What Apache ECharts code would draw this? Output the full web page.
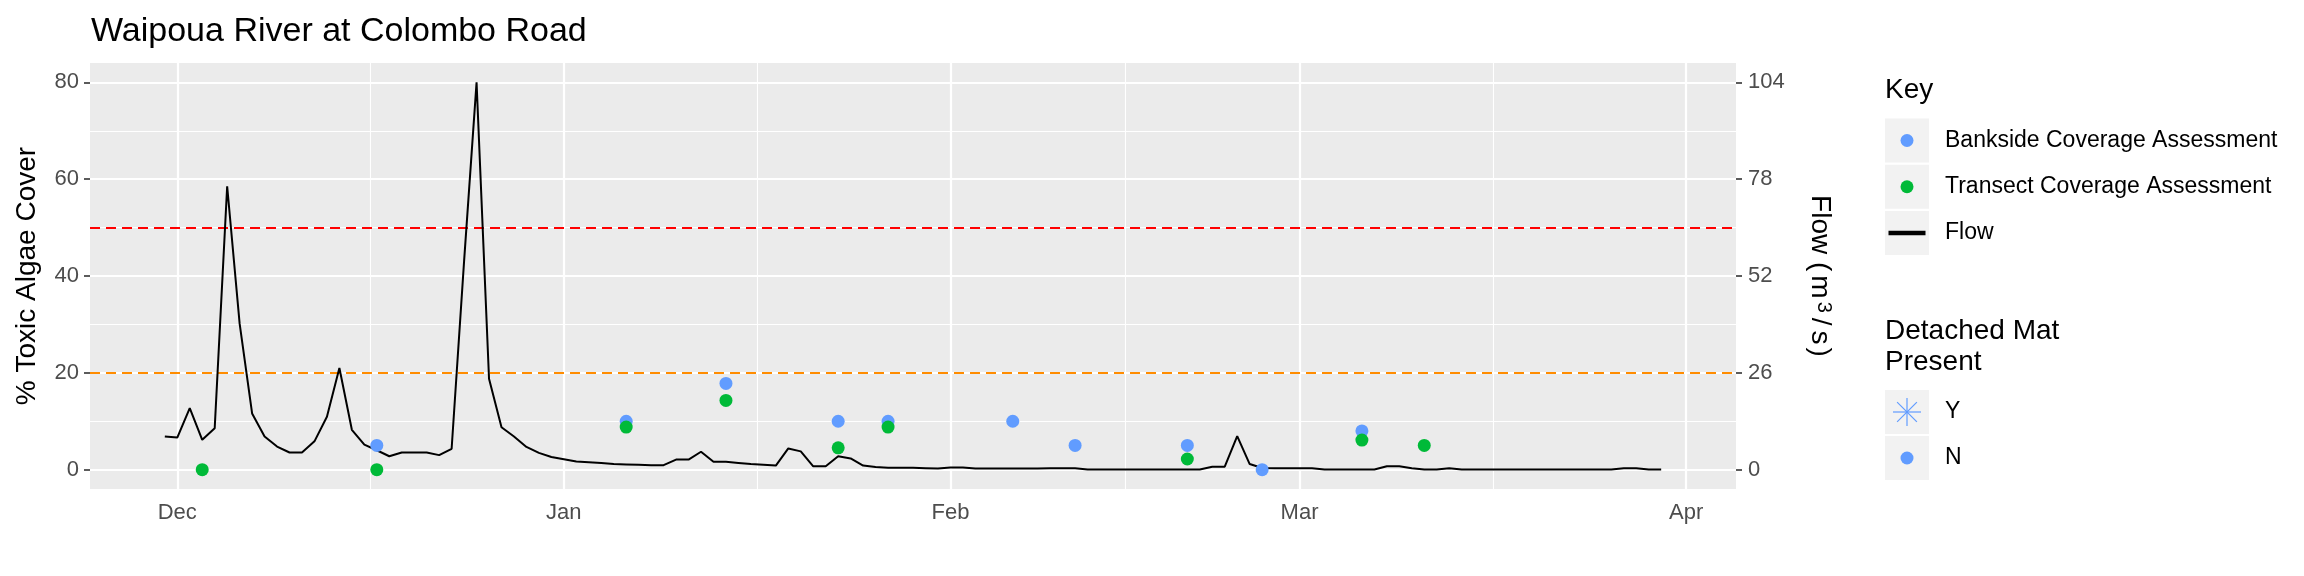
<!DOCTYPE html>
<html><head><meta charset="utf-8">
<script src="https://cdn.jsdelivr.net/npm/echarts@6/dist/echarts.min.js"></script>
<style>html,body{margin:0;padding:0;background:#fff}#c{width:2304px;height:576px}</style>
</head><body><div id="c"></div>
<script>
const FONT = '"Liberation Sans", Arial, Helvetica, sans-serif';
const titleText = 'Waipoua River at Colombo Road';
const leftAxisTitle = '% Toxic Algae Cover';

// Daily flow (m3/s) starting 2022-11-30
const flowStart = '2022-11-30';
const flowValues = [
  8.9, 8.6, 16.5, 8.0, 11.1, 76.1, 39.2, 15.1, 8.9, 6.2,
  4.6, 4.6, 7.6, 14.2, 27.3, 10.7, 6.7, 5.2, 3.6, 4.6,
  4.6, 4.6, 3.9, 5.6, 56, 104, 24.4, 11.4, 8.9, 6.1,
  4.5, 3.4, 2.8, 2.2, 2.0, 1.8, 1.5, 1.4, 1.3, 1.2,
  1.2, 2.7, 2.7, 4.8, 2.1, 2.1, 1.8, 1.5, 1.3, 1.1,
  5.7, 4.9, 0.9, 0.9, 3.6, 3.0, 1.1, 0.7, 0.5, 0.5,
  0.5, 0.4, 0.3, 0.6, 0.6, 0.3, 0.3, 0.3, 0.3, 0.3,
  0.3, 0.35, 0.35, 0.35, 0.05, 0.05, 0.05, 0.05, 0.05, 0.05,
  0.05, 0.05, 0.05, 0.05, 0.8, 0.8, 9.0, 1.5, 0.45, 0.35,
  0.35, 0.35, 0.35, 0.05, 0.05, 0.05, 0.05, 0.05, 0.9, 0.9,
  0.4, 0.05, 0.05, 0.4, 0.05, 0.05, 0.05, 0.05, 0.05, 0.05,
  0.05, 0.05, 0.05, 0.05, 0.05, 0.05, 0.05, 0.4, 0.4, 0.05,
  0.05
];

const banksideDates = ['2022-12-17','2023-01-06','2023-01-14','2023-01-23','2023-01-27','2023-02-06','2023-02-11','2023-02-20','2023-02-26','2023-03-06'];
const banksideValues = [5, 10, 17.8, 10, 10, 10, 5, 5, 0, 8];
const transectDates = ['2022-12-03','2022-12-17','2023-01-06','2023-01-14','2023-01-23','2023-01-27','2023-02-20','2023-03-06','2023-03-11'];
const transectValues = [0, 0, 8.8, 14.3, 4.5, 8.8, 2.2, 6.1, 5];

const thresholdValues = [50, 20];
const thresholdColors = ['#FF0000', '#FF8C00'];

const monthTickDates = ['2022-12-01','2023-01-01','2023-02-01','2023-03-01','2023-04-01'];
const monthTickLabels = ['Dec','Jan','Feb','Mar','Apr'];
const xRange = ['2022-11-24', '2023-04-05'];
const algaeTicks = [0, 20, 40, 60, 80];
const flowTicks = [0, 26, 52, 78, 104];

const keyLabels = ['Bankside Coverage Assessment', 'Transect Coverage Assessment', 'Flow'];
const matLabels = ['Y', 'N'];

const BLUE = '#619CFF', GREEN = '#00BA38';

function ts(s) { const p = s.split('-').map(Number); return Date.UTC(p[0], p[1] - 1, p[2]); }
const DAY = 86400000;
const flowData = flowValues.map((v, i) => [ts(flowStart) + i * DAY, v]);
const bankData = banksideDates.map((d, i) => [ts(d), banksideValues[i]]);
const tranData = transectDates.map((d, i) => [ts(d), transectValues[i]]);
const majorX = monthTickDates.map(ts);
const minorX = majorX.slice(1).map((v, i) => (v + majorX[i]) / 2);
const minorY = algaeTicks.slice(1).map((v, i) => (v + algaeTicks[i]) / 2);
const ratio = flowTicks[flowTicks.length - 1] / algaeTicks[algaeTicks.length - 1];
const yMin = -4, yMax = 84;

const gridLines = [
  ...majorX.map(v => ({ xAxis: v, lineStyle: { color: '#FFFFFF', width: 2.2, type: 'solid' } })),
  ...minorX.map(v => ({ xAxis: v, lineStyle: { color: '#FFFFFF', width: 1.1, type: 'solid' } })),
  ...algaeTicks.map(v => ({ yAxis: v, lineStyle: { color: '#FFFFFF', width: 2.2, type: 'solid' } })),
  ...minorY.map(v => ({ yAxis: v, lineStyle: { color: '#FFFFFF', width: 1.1, type: 'solid' } }))
];
const thresholdLines = thresholdValues.map((v, i) => ({ yAxis: v, lineStyle: { color: thresholdColors[i], width: 2, type: [10, 6] } }));

const tickStyle = { color: '#333333', width: 1.6 };
const labelStyle = { color: '#4D4D4D', fontSize: 22, fontFamily: FONT };

const LX = 1885, BOX = 44, CX = 1907, TX = 1945;
const keyCenters = [140.5, 186.75, 233];
const matCenters = [412, 458];
const graphics = [];
graphics.push({ type: 'text', x: LX, y: 90, style: { text: 'Key', fontSize: 28, fontFamily: FONT, fill: '#000', align: 'left', verticalAlign: 'middle' } });
keyCenters.forEach((c, i) => {
  graphics.push({ type: 'rect', shape: { x: LX, y: c - BOX / 2, width: BOX, height: BOX }, style: { fill: '#F2F2F2' } });
  graphics.push({ type: 'text', x: TX, y: c, style: { text: keyLabels[i], fontSize: 23, fontFamily: FONT, fill: '#000', align: 'left', verticalAlign: 'middle' } });
});
graphics.push({ type: 'circle', shape: { cx: CX, cy: keyCenters[0], r: 6.5 }, style: { fill: BLUE } });
graphics.push({ type: 'circle', shape: { cx: CX, cy: keyCenters[1], r: 6.5 }, style: { fill: GREEN } });
graphics.push({ type: 'line', shape: { x1: CX - 18.5, y1: keyCenters[2], x2: CX + 18.5, y2: keyCenters[2] }, style: { stroke: '#000', lineWidth: 4.5 } });
graphics.push({ type: 'text', x: LX, y: 315.5, style: { text: 'Detached Mat\nPresent', fontSize: 28, lineHeight: 31, fontFamily: FONT, fill: '#000', align: 'left', verticalAlign: 'top' } });
matCenters.forEach((c, i) => {
  graphics.push({ type: 'rect', shape: { x: LX, y: c - BOX / 2, width: BOX, height: BOX }, style: { fill: '#F2F2F2' } });
  graphics.push({ type: 'text', x: TX, y: c, style: { text: matLabels[i], fontSize: 23, fontFamily: FONT, fill: '#000', align: 'left', verticalAlign: 'middle' } });
});
(function () {
  const c = matCenters[0], r = 14, d = 9.9;
  const seg = [[0, -r, 0, r], [-r, 0, r, 0], [-d, -d, d, d], [-d, d, d, -d]];
  seg.forEach(s => graphics.push({ type: 'line', shape: { x1: CX + s[0], y1: c + s[1], x2: CX + s[2], y2: c + s[3] }, style: { stroke: BLUE, lineWidth: 1.2 } }));
})();
graphics.push({ type: 'circle', shape: { cx: CX, cy: matCenters[1], r: 6.5 }, style: { fill: BLUE } });

const base = { fontSize: 28, fontFamily: FONT, color: '#000', lineHeight: 28, verticalAlign: 'bottom' };
const chart = echarts.init(document.getElementById('c'), null, { renderer: 'canvas' });
chart.setOption({
  animation: false,
  backgroundColor: '#FFFFFF',
  title: {
    text: titleText, left: 91, top: 15, padding: 0,
    textStyle: { fontSize: 34, fontWeight: 'normal', color: '#000', fontFamily: FONT }
  },
  grid: { left: 90, right: 568, top: 63, bottom: 87, show: true, backgroundColor: '#EBEBEB', borderWidth: 0, containLabel: false },
  xAxis: {
    type: 'value', min: ts(xRange[0]), max: ts(xRange[1]), scale: true,
    axisLine: { show: false },
    axisTick: { show: true, length: 6, lineStyle: tickStyle, customValues: majorX },
    axisLabel: Object.assign({ margin: 13, customValues: majorX, formatter: v => { const i = majorX.indexOf(v); return i >= 0 ? monthTickLabels[i] : ''; } }, labelStyle),
    splitLine: { show: false }
  },
  yAxis: [
    {
      type: 'value', min: yMin, max: yMax, position: 'left',
      name: leftAxisTitle, nameLocation: 'middle', nameGap: 49, nameRotate: 90,
      nameTextStyle: { fontSize: 28, color: '#000', fontFamily: FONT },
      axisLine: { show: false },
      axisTick: { show: true, length: 6, lineStyle: tickStyle, customValues: algaeTicks },
      axisLabel: Object.assign({ margin: 11, customValues: algaeTicks }, labelStyle),
      splitLine: { show: false }
    },
    {
      type: 'value', min: yMin * ratio, max: yMax * ratio, position: 'right',
      name: '{a|Flow (}{b|m}{s|3}{c|/}{d|s}{e|)}', nameLocation: 'middle', nameGap: 55, nameRotate: -90,
      nameTextStyle: {
        fontSize: 28, color: '#000', fontFamily: FONT,
        rich: {
          a: Object.assign({}, base),
          b: Object.assign({}, base, { padding: [0, 0, 0, 4] }),
          s: { fontSize: 20, fontFamily: FONT, color: '#000', lineHeight: 20, verticalAlign: 'top', padding: [0, 3, 18, 3] },
          c: Object.assign({}, base, { padding: [0, 2, 0, 2] }),
          d: Object.assign({}, base, { padding: [0, 0, 0, 3] }),
          e: Object.assign({}, base, { padding: [0, 0, 0, 3] })
        }
      },
      axisLine: { show: false },
      axisTick: { show: true, length: 6, lineStyle: tickStyle, customValues: flowTicks },
      axisLabel: Object.assign({ margin: 12, customValues: flowTicks }, labelStyle),
      splitLine: { show: false }
    }
  ],
  series: [
    {
      name: 'grid', type: 'line', data: [], xAxisIndex: 0, yAxisIndex: 0, silent: true, z: 1,
      markLine: { silent: true, z: 1, symbol: ['none', 'none'], label: { show: false }, animation: false, data: gridLines }
    },
    {
      name: 'thresholds', type: 'line', data: [], xAxisIndex: 0, yAxisIndex: 0, silent: true, z: 2,
      markLine: { silent: true, z: 2, symbol: ['none', 'none'], label: { show: false }, animation: false, data: thresholdLines }
    },
    {
      name: keyLabels[2], type: 'line', data: flowData, yAxisIndex: 1, symbol: 'none', z: 3,
      lineStyle: { color: '#000000', width: 2 }, itemStyle: { color: '#000' }
    },
    {
      name: keyLabels[0], type: 'scatter', data: bankData, yAxisIndex: 0, symbol: 'circle', symbolSize: 13, z: 4,
      itemStyle: { color: BLUE, opacity: 1 }
    },
    {
      name: keyLabels[1], type: 'scatter', data: tranData, yAxisIndex: 0, symbol: 'circle', symbolSize: 13, z: 5,
      itemStyle: { color: GREEN, opacity: 1 }
    }
  ],
  graphic: graphics
});
</script></body></html>
